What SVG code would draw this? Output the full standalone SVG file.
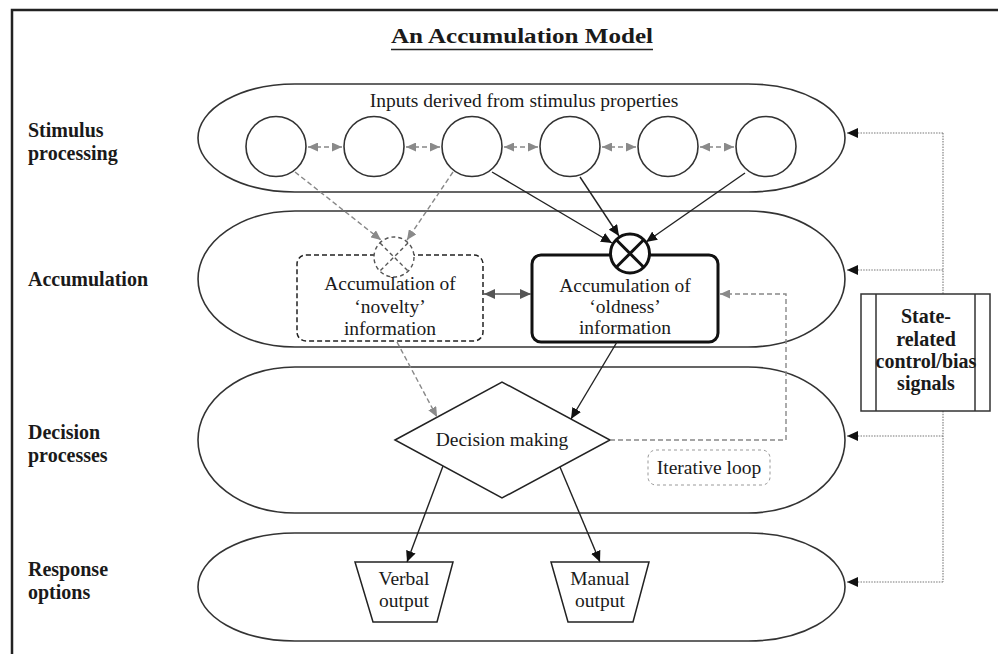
<svg xmlns="http://www.w3.org/2000/svg" width="998" height="654" viewBox="0 0 998 654">
<style>
  .band { fill: none; stroke: #333; stroke-width: 1.6; }
  .circ { fill: #fff; stroke: #333; stroke-width: 1.6; }
  .lbl { font-family: "Liberation Serif", "Times New Roman", serif; font-weight: bold; font-size: 20px; fill: #1a1a1a; }
  .txt { font-family: "Liberation Serif", "Times New Roman", serif; font-size: 19.5px; fill: #1a1a1a; }
  .solid { fill: none; stroke: #222; stroke-width: 1.4; }
  .gdash { fill: none; stroke: #888; stroke-width: 1.4; stroke-dasharray: 5,3; }
  .dot { fill: none; stroke: #777; stroke-width: 1.1; stroke-dasharray: 1.5,1.2; }
</style>
<defs>
  <marker id="ab" markerUnits="userSpaceOnUse" markerWidth="11" markerHeight="10" refX="11" refY="5" orient="auto-start-reverse">
    <path d="M0,0 L11,5 L0,10 Z" fill="#111"/>
  </marker>
  <marker id="ad" markerUnits="userSpaceOnUse" markerWidth="11" markerHeight="10" refX="11" refY="5" orient="auto-start-reverse">
    <path d="M0,0 L11,5 L0,10 Z" fill="#555"/>
  </marker>
  <marker id="ag" markerUnits="userSpaceOnUse" markerWidth="10" markerHeight="9" refX="10" refY="4.5" orient="auto-start-reverse">
    <path d="M0,0 L10,4.5 L0,9 Z" fill="#8a8a8a"/>
  </marker>
</defs>
<rect width="998" height="654" fill="#fff"/>
<rect x="12" y="10" width="1000" height="660" fill="none" stroke="#222" stroke-width="2.5"/>

<g id="title">
  <text class="lbl" x="522" y="43" text-anchor="middle" font-size="24" textLength="262" lengthAdjust="spacingAndGlyphs">An Accumulation Model</text>
  <line x1="391" y1="49.5" x2="653" y2="49.5" stroke="#222" stroke-width="1.5"/>
</g>

<g id="row-labels">
  <text class="lbl" x="28" y="137">Stimulus</text>
  <text class="lbl" x="28" y="160">processing</text>
  <text class="lbl" x="28" y="286">Accumulation</text>
  <text class="lbl" x="28" y="439">Decision</text>
  <text class="lbl" x="28" y="462">processes</text>
  <text class="lbl" x="28" y="576">Response</text>
  <text class="lbl" x="28" y="599">options</text>
</g>

<g id="band-stimulus">
  <path class="band" d="M295,84 H748 A97,54 0 0 1 748,192 H295 A97,54 0 0 1 295,84 Z"/>
  <text class="txt" x="524" y="107" text-anchor="middle">Inputs derived from stimulus properties</text>
</g>
<g id="band-accumulation">
  <path class="band" d="M295,211 H748 A97,68 0 0 1 748,347 H295 A97,68 0 0 1 295,211 Z"/>
</g>
<g id="band-decision">
  <path class="band" d="M295,367 H748 A97,73 0 0 1 748,513 H295 A97,73 0 0 1 295,367 Z"/>
</g>
<g id="band-response">
  <path class="band" d="M295,533 H748 A97,54 0 0 1 748,641 H295 A97,54 0 0 1 295,533 Z"/>
</g>

<g id="input-1"><circle class="circ" cx="276" cy="146.5" r="30"/></g>
<g id="input-2"><circle class="circ" cx="374" cy="146.5" r="30"/></g>
<g id="input-3"><circle class="circ" cx="472" cy="146.5" r="30"/></g>
<g id="input-4"><circle class="circ" cx="570" cy="146.5" r="30"/></g>
<g id="input-5"><circle class="circ" cx="668" cy="146.5" r="30"/></g>
<g id="input-6"><circle class="circ" cx="766" cy="146.5" r="30"/></g>

<g id="novelty">
  <rect x="297" y="255" width="186" height="86" rx="9" fill="#fff" stroke="#222" stroke-width="1.5" stroke-dasharray="5,3"/>
  <circle cx="394" cy="257" r="20" fill="#fff" stroke="#555" stroke-width="1.4" stroke-dasharray="4,3"/>
  <line x1="380" y1="243" x2="408" y2="271" stroke="#555" stroke-width="1.4" stroke-dasharray="4,3"/>
  <line x1="408" y1="243" x2="380" y2="271" stroke="#555" stroke-width="1.4" stroke-dasharray="4,3"/>
  <text class="txt" x="390" y="290" text-anchor="middle">Accumulation of</text>
  <text class="txt" x="390" y="313" text-anchor="middle">‘novelty’</text>
  <text class="txt" x="390" y="335" text-anchor="middle">information</text>
</g>

<g id="oldness">
  <rect x="532" y="255" width="186" height="87" rx="9" fill="#fff" stroke="#111" stroke-width="3"/>
  <circle cx="630" cy="253.5" r="19.5" fill="#fff" stroke="#111" stroke-width="3"/>
  <line x1="616" y1="239.5" x2="644" y2="267.5" stroke="#111" stroke-width="3"/>
  <line x1="644" y1="239.5" x2="616" y2="267.5" stroke="#111" stroke-width="3"/>
  <text class="txt" x="625" y="292" text-anchor="middle">Accumulation of</text>
  <text class="txt" x="625" y="313" text-anchor="middle">‘oldness’</text>
  <text class="txt" x="625" y="334" text-anchor="middle">information</text>
</g>

<g id="decision">
  <path d="M395,440 L502,382 L610,440 L502,498 Z" fill="#fff" stroke="#222" stroke-width="1.5"/>
  <text class="txt" x="502" y="446" text-anchor="middle">Decision making</text>
</g>

<g id="iterative-loop">
  <rect x="648" y="450" width="122" height="35" rx="8" fill="none" stroke="#999" stroke-width="1" stroke-dasharray="3,3"/>
  <text class="txt" x="709" y="474" text-anchor="middle">Iterative loop</text>
</g>

<g id="verbal">
  <path d="M355,562 L453,562 L437,622 L373,622 Z" fill="#fff" stroke="#222" stroke-width="1.5"/>
  <text class="txt" x="404" y="585" text-anchor="middle">Verbal</text>
  <text class="txt" x="404" y="607" text-anchor="middle">output</text>
</g>

<g id="manual">
  <path d="M551,562 L649,562 L633,622 L568,622 Z" fill="#fff" stroke="#222" stroke-width="1.5"/>
  <text class="txt" x="600" y="585" text-anchor="middle">Manual</text>
  <text class="txt" x="600" y="607" text-anchor="middle">output</text>
</g>

<g id="connectors">
  <line class="gdash" x1="308" y1="147" x2="342" y2="147" marker-start="url(#ag)" marker-end="url(#ag)"/>
  <line class="gdash" x1="406" y1="147" x2="440" y2="147" marker-start="url(#ag)" marker-end="url(#ag)"/>
  <line class="gdash" x1="504" y1="147" x2="538" y2="147" marker-start="url(#ag)" marker-end="url(#ag)"/>
  <line class="gdash" x1="602" y1="147" x2="636" y2="147" marker-start="url(#ag)" marker-end="url(#ag)"/>
  <line class="gdash" x1="700" y1="147" x2="734" y2="147" marker-start="url(#ag)" marker-end="url(#ag)"/>
  <line class="gdash" x1="295" y1="172" x2="381" y2="240" marker-end="url(#ag)"/>
  <line class="gdash" x1="453" y1="172" x2="407" y2="240" marker-end="url(#ag)"/>
  <line class="solid" x1="492" y1="172" x2="612" y2="243" marker-end="url(#ab)"/>
  <line class="solid" x1="580" y1="177" x2="619" y2="236" marker-end="url(#ab)"/>
  <line class="solid" x1="745" y1="173" x2="646" y2="242" marker-end="url(#ab)"/>
  <line x1="484" y1="294" x2="531" y2="294" stroke="#555" stroke-width="1.4" marker-start="url(#ad)" marker-end="url(#ad)"/>
  <line class="gdash" x1="397" y1="342" x2="437" y2="417" marker-end="url(#ag)"/>
  <line class="solid" x1="617" y1="342" x2="571" y2="419" marker-end="url(#ab)"/>
  <path class="gdash" d="M610,440 H786 V294 H720" marker-end="url(#ag)"/>
  <line class="solid" x1="443" y1="466" x2="407" y2="562" marker-end="url(#ab)"/>
  <line class="solid" x1="560" y1="467" x2="600" y2="562" marker-end="url(#ab)"/>
  <path class="dot" d="M943,133 V582"/>
  <line class="dot" x1="943" y1="133" x2="847" y2="133" marker-end="url(#ab)"/>
  <line class="dot" x1="943" y1="270" x2="847" y2="270" marker-end="url(#ab)"/>
  <line class="dot" x1="943" y1="436" x2="847" y2="436" marker-end="url(#ab)"/>
  <line class="dot" x1="943" y1="582" x2="847" y2="582" marker-end="url(#ab)"/>
</g>

<g id="state">
  <rect x="861" y="294" width="129" height="117" fill="#fff" stroke="#333" stroke-width="1.5"/>
  <line x1="876" y1="294" x2="876" y2="411" stroke="#333" stroke-width="1.5"/>
  <line x1="975" y1="294" x2="975" y2="411" stroke="#333" stroke-width="1.5"/>
  <text class="lbl" x="926" y="323" text-anchor="middle">State-</text>
  <text class="lbl" x="926" y="346" text-anchor="middle">related</text>
  <text class="lbl" x="926" y="368" text-anchor="middle">control/bias</text>
  <text class="lbl" x="926" y="390" text-anchor="middle">signals</text>
</g>
</svg>
